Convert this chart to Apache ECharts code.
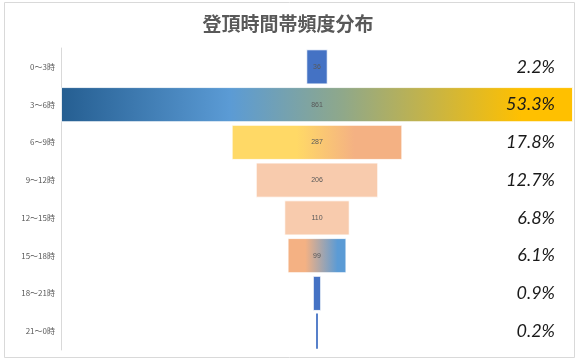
<!DOCTYPE html>
<html>
<head>
<meta charset="utf-8">
<script src="https://cdn.jsdelivr.net/npm/echarts@6/dist/echarts.min.js"></script>
<style>
  html, body { margin: 0; padding: 0; background: #fff; }
  #main { width: 576px; height: 360px; }
</style>
</head>
<body>
<div id="main"></div>
<script>
var categories = ['0～3時', '3～6時', '6～9時', '9～12時', '12～15時', '15～18時', '18～21時', '21～0時'];
var counts = [36, 861, 287, 206, 110, 99, 14, 3];
var pctLabels = ['2.2%', '53.3%', '17.8%', '12.7%', '6.8%', '6.1%', '0.9%', '0.2%'];

var chart = echarts.init(document.getElementById('main'));
var maxCount = Math.max.apply(null, counts);

// 水平グラデーション
function grad(stops) {
  return new echarts.graphic.LinearGradient(0, 0, 1, 0, stops.map(function(s) {
    return { offset: s[0], color: s[1] };
  }));
}

var barColors = [
  '#4472c4',
  grad([[0, '#255e91'], [0.33, '#5b9bd5'], [0.55, '#8fa88a'], [0.9, '#ffc000'], [1, '#ffc000']]),
  grad([[0, '#ffd966'], [0.38, '#ffd966'], [0.72, '#f4b183'], [1, '#f4b183']]),
  '#f8cbad',
  '#f8cbad',
  grad([[0, '#f4b183'], [0.3, '#f4b183'], [0.85, '#5b9bd5'], [1, '#5b9bd5']]),
  '#4472c4',
  '#4472c4'
];

var offsets = counts.map(function(v) { return (maxCount - v) / 2; });
var bars = counts.map(function(v, i) {
  var st = { color: barColors[i] };
  if (v < 10) st.borderWidth = 0; // 細い棒は枠なし
  return { value: v, itemStyle: st };
});

var option = {
  animation: false,
  backgroundColor: '#fff',
  title: {
    text: '登頂時間帯頻度分布',
    left: 'center',
    top: 9,
    textStyle: {
      fontFamily: 'Noto Sans CJK JP',
      fontSize: 19,
      fontWeight: 'bold',
      color: '#595959'
    }
  },
  graphic: [{
    type: 'rect',
    shape: { x: 4.5, y: 2.5, width: 570, height: 355 },
    style: { fill: 'none', stroke: '#d9d9d9', lineWidth: 1 },
    silent: true
  }],
  grid: { left: 61, right: 3, top: 48, bottom: 10 },
  xAxis: {
    type: 'value',
    min: 0,
    max: maxCount,
    show: false
  },
  yAxis: [{
    type: 'category',
    data: categories,
    inverse: true,
    axisLine: { lineStyle: { color: '#d9d9d9' } },
    axisTick: { show: false },
    axisLabel: {
      fontFamily: 'Noto Sans CJK JP',
      fontSize: 8,
      color: '#595959',
      margin: 6
    }
  }, {
    type: 'category',
    data: categories,
    inverse: true,
    position: 'right',
    z: 10,
    axisLine: { show: false },
    axisTick: { show: false },
    axisLabel: {
      inside: true,
      margin: 18,
      fontFamily: 'Lato',
      fontStyle: 'italic',
      fontSize: 18,
      color: '#1a1a1a',
      formatter: function(v, i) { return pctLabels[i]; }
    }
  }],
  series: [{
    type: 'bar',
    stack: 'f',
    data: offsets,
    itemStyle: { color: 'transparent' },
    silent: true,
    barCategoryGap: '7%'
  }, {
    type: 'bar',
    stack: 'f',
    data: bars,
    itemStyle: { borderColor: 'rgba(255,255,255,0.8)', borderWidth: 1 },
    label: {
      show: true,
      position: 'inside',
      fontFamily: 'Liberation Sans',
      fontSize: 7,
      color: '#595959',
      formatter: function(p) { return p.value >= 30 ? p.value : ''; }
    }
  }]
};

chart.setOption(option);
</script>
</body>
</html>
